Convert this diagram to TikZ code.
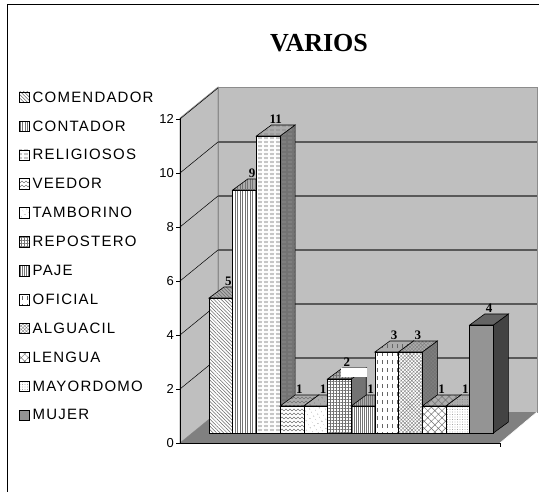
\documentclass[tikz,border=0pt]{standalone}
\usepackage{fontspec}
\setmainfont{Liberation Serif}
\setsansfont{Liberation Sans}
\newfontfamily\legendfont[LetterSpace=8]{Liberation Sans}
\usetikzlibrary{patterns,patterns.meta}
\colorlet{solidbar}{black!42}

\pgfdeclarepatternformonly{zigzag}{\pgfpoint{-1pt}{-1pt}}{\pgfpoint{5pt}{5pt}}{\pgfpoint{4pt}{4pt}}{%
  \pgfsetlinewidth{0.4pt}
  \pgfpathmoveto{\pgfpoint{0pt}{1pt}}
  \pgfpathlineto{\pgfpoint{2pt}{3pt}}
  \pgfpathlineto{\pgfpoint{4pt}{1pt}}
  \pgfusepath{stroke}}
\pgfdeclarepatternformonly{wavy}{\pgfpoint{-1pt}{-1pt}}{\pgfpoint{7pt}{5pt}}{\pgfpoint{6pt}{4pt}}{%
  \pgfsetlinewidth{0.4pt}
  \pgfpathmoveto{\pgfpoint{0pt}{3pt}}
  \pgfpathlineto{\pgfpoint{1pt}{1pt}}
  \pgfpathlineto{\pgfpoint{2pt}{3pt}}
  \pgfpathlineto{\pgfpoint{3pt}{1pt}}
  \pgfpathlineto{\pgfpoint{4pt}{3pt}}
  \pgfusepath{stroke}}
\pgfdeclarepatternformonly{vdashes}{\pgfpoint{-1pt}{-1pt}}{\pgfpoint{6pt}{9pt}}{\pgfpoint{5pt}{8pt}}{%
  \pgfsetlinewidth{0.4pt}
  \pgfpathmoveto{\pgfpoint{2pt}{0pt}}
  \pgfpathlineto{\pgfpoint{2pt}{4pt}}
  \pgfusepath{stroke}}

\begin{document}
\begin{tikzpicture}[x=1pt,y=-1pt,
    wall/.style={fill=black!25,draw=black!45,line width=.6pt},
    floorface/.style={fill=black!50},
    gridline/.style={draw=black!65,line width=1.2pt},
    depthline/.style={draw=black,line width=.5pt},
    axisline/.style={draw=black,line width=.8pt},
    face/.style={draw=black,line width=.6pt},
    comendador/.style={pattern={Lines[angle=-45,distance=2.5pt,line width=.5pt]},pattern color=black!60},
    contador/.style={pattern={Lines[angle=90,distance=2.5pt,line width=.5pt]},pattern color=black!55},
    religiosos/.style={pattern=wavy,pattern color=black!45},
    veedor/.style={pattern=zigzag,pattern color=black!55},
    tamborino/.style={pattern={Dots[angle=30,distance=4pt,radius=.5pt]},pattern color=black!60},
    repostero/.style={pattern={Hatch[angle=0,distance=3pt,line width=.4pt]},pattern color=black!55},
    paje/.style={pattern={Lines[angle=90,distance=2pt,line width=.4pt]},pattern color=black!55},
    oficial/.style={pattern=vdashes,pattern color=black!60},
    alguacil/.style={pattern={Hatch[angle=45,distance=2.5pt,line width=.4pt]},pattern color=black!50},
    lengua/.style={pattern={Hatch[angle=45,distance=5pt,line width=.5pt]},pattern color=black!55},
    mayordomo/.style={pattern={Dots[distance=2.5pt,radius=.45pt]},pattern color=black!55},
    mujer/.style={fill=none},
    ticklabel/.style={font=\sffamily\fontsize{13}{13}\selectfont,anchor=east,inner sep=1pt},
    valuelabel/.style={font=\bfseries\fontsize{13}{13}\selectfont,anchor=south,inner sep=1pt},
    legendlabel/.style={font=\legendfont\fontsize{15}{15}\selectfont,anchor=west,inner sep=.5pt},
  ]
  \useasboundingbox (0,0) rectangle (539,492);
  \draw[line width=1pt] (7,492) -- (7,5) -- (539,5);

  \node[font=\bfseries\fontsize{26}{26}\selectfont] (title) at (319,43) {VARIOS};

  \filldraw[wall] (180,118) -- (218,87) -- (218,412) -- (180,443) -- cycle;
  \filldraw[wall] (218,87) rectangle (537,412);
  \fill[floorface] (180,443) -- (218,412) -- (537,412) -- (500,443) -- cycle;
  \draw[white,line width=.6pt] (537,412) -- (500,443);

  \foreach \t in {2,4,...,10}
    \draw[gridline] (218,{412-27*\t}) -- (537,{412-27*\t});
  \foreach \t in {2,4,...,12}
    \draw[depthline] (180,{443-27*\t}) -- (218,{412-27*\t});
  \foreach \t in {0,2,...,12}{
    \draw[axisline] (176,{443-27*\t}) -- (180,{443-27*\t});
    \node[ticklabel] (t\t) at (175,{443-27*\t}) {\t};
  }
  \draw[axisline] (180,118) -- (180,443) -- (500,443) -- (500,447);

  \foreach \v/\st/\fc [count=\i from 0] in {5/comendador/white,9/contador/white,11/religiosos/white,
      1/veedor/white,1/tamborino/white,2/repostero/white,1/paje/white,3/oficial/white,
      3/alguacil/white,1/lengua/white,1/mayordomo/white,4/mujer/solidbar}{
    \pgfmathsetmacro{\xa}{209+23.7*\i}
    \pgfmathsetmacro{\xb}{\xa+23.7}
    \pgfmathsetmacro{\yt}{433-27*\v}
    \fill[\fc!45!black] (\xb,433) -- (\xb+15,422) -- (\xb+15,\yt-11) -- (\xb,\yt) -- cycle;
    \fill[\st] (\xb,433) -- (\xb+15,422) -- (\xb+15,\yt-11) -- (\xb,\yt) -- cycle;
    \draw[face] (\xb,433) -- (\xb+15,422) -- (\xb+15,\yt-11) -- (\xb,\yt) -- cycle;
    \fill[\fc!68!black] (\xa,\yt) -- (\xb,\yt) -- (\xb+15,\yt-11) -- (\xa+15,\yt-11) -- cycle;
    \fill[\st] (\xa,\yt) -- (\xb,\yt) -- (\xb+15,\yt-11) -- (\xa+15,\yt-11) -- cycle;
    \draw[face] (\xa,\yt) -- (\xb,\yt) -- (\xb+15,\yt-11) -- (\xa+15,\yt-11) -- cycle;
    \fill[\fc] (\xa,433) rectangle (\xb,\yt);
    \fill[\st] (\xa,433) rectangle (\xb,\yt);
    \draw[face] (\xa,433) rectangle (\xb,\yt);
  }
  \fill[white] (341,368) rectangle (367,377);

  \foreach \v [count=\i from 0] in {5,9,11,1,1,2,1,3,3,1,1,4}
    \node[valuelabel] (v\i) at ({209+23.7*\i+19.3},{433-27*\v-11}) {\v};

  \foreach \name/\st/\fc [count=\k from 0] in {COMENDADOR/comendador/white,CONTADOR/contador/white,
      RELIGIOSOS/religiosos/white,VEEDOR/veedor/white,TAMBORINO/tamborino/white,
      REPOSTERO/repostero/white,PAJE/paje/white,OFICIAL/oficial/white,ALGUACIL/alguacil/white,
      LENGUA/lengua/white,MAYORDOMO/mayordomo/white,MUJER/mujer/solidbar}{
    \fill[\fc] (19,{97+28.9*\k-5}) rectangle (29.5,{97+28.9*\k+5.5});
    \fill[\st] (19,{97+28.9*\k-5}) rectangle (29.5,{97+28.9*\k+5.5});
    \draw[line width=.5pt] (19,{97+28.9*\k-5}) rectangle (29.5,{97+28.9*\k+5.5});
    \node[legendlabel] (lg\k) at (32,{97+28.9*\k}) {\name};
  }
\end{tikzpicture}
\end{document}
